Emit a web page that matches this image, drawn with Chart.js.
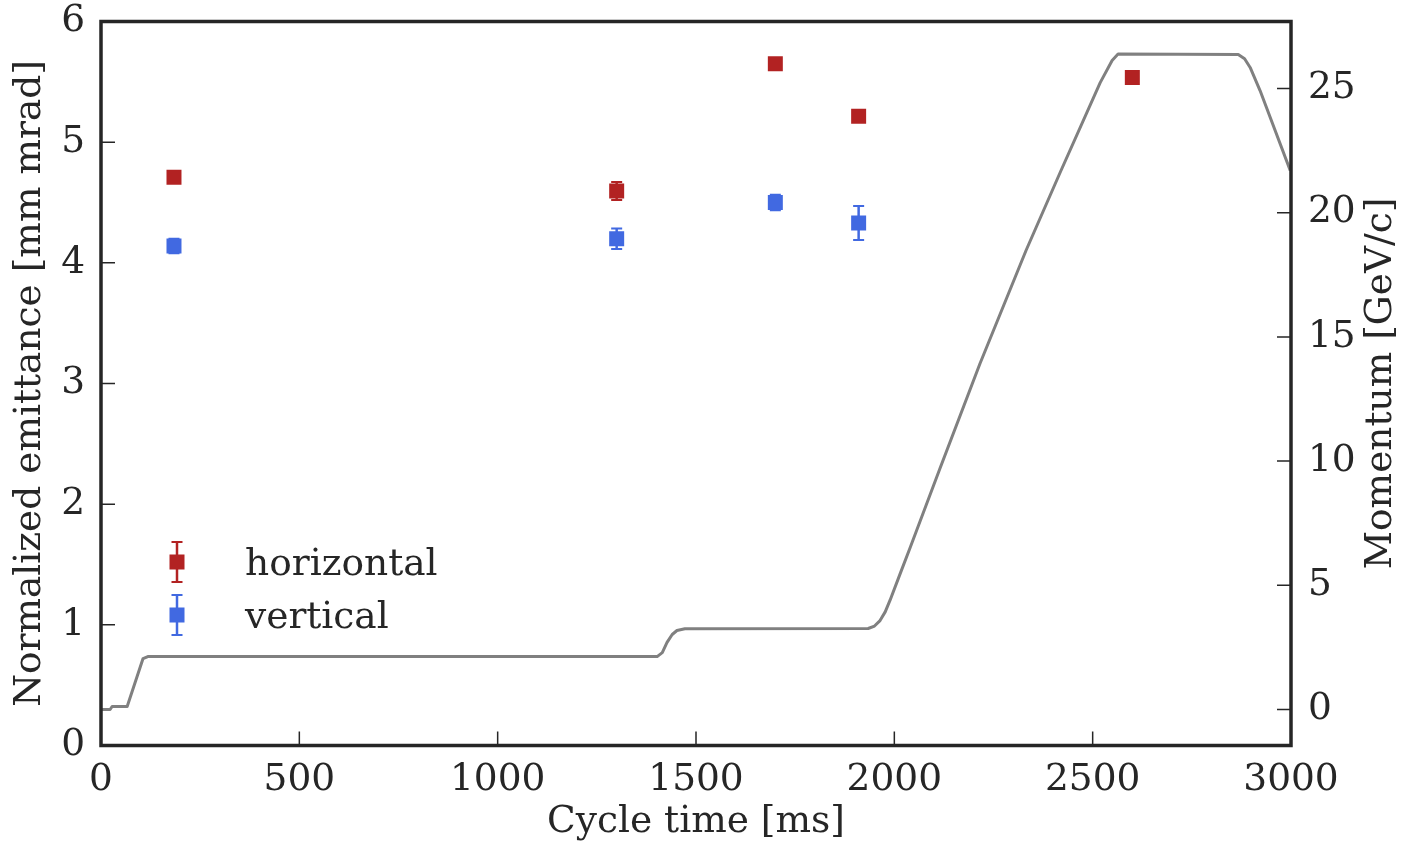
<!DOCTYPE html>
<html>
<head>
<meta charset="utf-8">
<script src="https://cdn.jsdelivr.net/npm/chart.js@4.4.0/dist/chart.umd.min.js"></script>
<style>
  html, body { margin: 0; padding: 0; background: #fff; }
  #wrap { width: 1408px; height: 845px; }
</style>
</head>
<body>
<div id="wrap"><canvas id="chart" width="1408" height="845"></canvas></div>
<script>
// emittance measurements (cycle time in ms)
const measTimes = [184, 1300, 1700, 1910, 2600];
const emitH = [4.71, 4.595, 5.65, 5.215, 5.535];
const errH = [0.02, 0.075, 0.02, 0.02, 0.02];
const vertTimes = [184, 1300, 1700, 1910];
const emitV = [4.14, 4.20, 4.50, 4.33];
const errV = [0.06, 0.085, 0.065, 0.14];

// momentum ramp
const momTime = [0, 23, 28, 66, 106, 118, 1402, 1415, 1427, 1440, 1452, 1472, 1934, 1950, 1964, 1977, 1989, 2015, 2040,
    2115, 2216, 2332, 2418, 2519, 2549, 2564, 2867, 2883, 2897, 2922, 2998];
const momValue = [0, 0, 0.12, 0.12, 2.05, 2.13, 2.13, 2.29, 2.70, 3.02, 3.18, 3.25, 3.26, 3.36, 3.58, 3.93, 4.39, 5.48, 6.52,
    9.70, 13.93, 18.48, 21.62, 25.24, 26.13, 26.39, 26.37, 26.2, 25.85, 24.92, 21.70];

const xTicks = [0, 500, 1000, 1500, 2000, 2500, 3000];
const yTicks = [0, 1, 2, 3, 4, 5, 6];
const momTicks = [0, 5, 10, 15, 20, 25];

const RED = '#b22222';
const BLUE = '#4169e1';
const INK = '#262626';
const FONT = "'DejaVu Serif', serif";
const FS = 37.5;

const toPts = (xs, ys) => xs.map((x, i) => ({ x: x, y: ys[i] }));

// vertical error bars with caps, drawn under the markers
const errorBars = {
    id: 'errorBars',
    beforeDatasetsDraw(chart) {
        const ctx = chart.ctx;
        const xs = chart.scales.x, ys = chart.scales.y;
        chart.data.datasets.forEach(ds => {
            if (!ds.errors) return;
            ctx.save();
            ctx.strokeStyle = ds.backgroundColor;
            ds.data.forEach((p, j) => {
                const e = ds.errors[j];
                const px = xs.getPixelForValue(p.x);
                const top = ys.getPixelForValue(p.y + e);
                const bot = ys.getPixelForValue(p.y - e);
                ctx.lineWidth = 2.5;
                ctx.beginPath();
                ctx.moveTo(px, top); ctx.lineTo(px, bot);
                ctx.stroke();
                ctx.lineWidth = 2;
                ctx.beginPath();
                ctx.moveTo(px - 5.5, top); ctx.lineTo(px + 5.5, top);
                ctx.moveTo(px - 5.5, bot); ctx.lineTo(px + 5.5, bot);
                ctx.stroke();
            });
            ctx.restore();
        });
    }
};

// box frame, inward ticks, right-hand title and legend
const frame = {
    id: 'frame',
    afterDraw(chart) {
        const ctx = chart.ctx;
        const a = chart.chartArea;
        const sx = chart.scales.x, sy = chart.scales.y, s2 = chart.scales.y2;
        ctx.save();
        ctx.strokeStyle = INK;
        ctx.lineWidth = 1.5;
        ctx.beginPath();
        xTicks.forEach(v => {
            const p = sx.getPixelForValue(v);
            ctx.moveTo(p, a.bottom); ctx.lineTo(p, a.bottom - 14);
        });
        yTicks.forEach(v => {
            const p = sy.getPixelForValue(v);
            ctx.moveTo(a.left, p); ctx.lineTo(a.left + 14, p);
        });
        momTicks.forEach(v => {
            const p = s2.getPixelForValue(v);
            ctx.moveTo(a.right, p); ctx.lineTo(a.right - 14, p);
        });
        ctx.stroke();

        ctx.lineWidth = 3.5;
        ctx.strokeRect(a.left, a.top, a.right - a.left, a.bottom - a.top);

        // right axis title, reading upwards like the left one
        ctx.fillStyle = INK;
        ctx.font = FS + 'px ' + FONT;
        ctx.textAlign = 'center';
        ctx.textBaseline = 'middle';
        ctx.translate(1381, (a.top + a.bottom) / 2);
        ctx.rotate(-Math.PI / 2);
        ctx.fillText('Momentum [GeV/c]', 0, 0);
        ctx.restore();

        // legend
        ctx.save();
        ctx.font = FS + 'px ' + FONT;
        ctx.textAlign = 'left';
        ctx.textBaseline = 'alphabetic';
        const items = [
            { label: 'horizontal', color: RED, y: 562 },
            { label: 'vertical', color: BLUE, y: 615 }
        ];
        items.forEach(it => {
            const mx = 177;
            ctx.strokeStyle = it.color;
            ctx.fillStyle = it.color;
            ctx.lineWidth = 2.5;
            ctx.beginPath();
            ctx.moveTo(mx, it.y - 20); ctx.lineTo(mx, it.y + 20);
            ctx.stroke();
            ctx.lineWidth = 2;
            ctx.beginPath();
            ctx.moveTo(mx - 5.5, it.y - 20); ctx.lineTo(mx + 5.5, it.y - 20);
            ctx.moveTo(mx - 5.5, it.y + 20); ctx.lineTo(mx + 5.5, it.y + 20);
            ctx.stroke();
            ctx.fillRect(mx - 7.5, it.y - 7.5, 15, 15);
            ctx.fillStyle = INK;
            ctx.fillText(it.label, 245, it.y + 13);
        });
        ctx.restore();
    }
};

const plain = v => String(v);
const noPadV = s => { s.paddingTop = 0; s.paddingBottom = 0; };

new Chart(document.getElementById('chart'), {
    data: {
        datasets: [
            {
                type: 'line',
                label: 'momentum',
                yAxisID: 'y2',
                data: toPts(momTime, momValue),
                borderColor: '#808080',
                borderWidth: 3,
                borderJoinStyle: 'round',
                pointRadius: 0,
                tension: 0,
                fill: false,
                order: 3
            },
            {
                type: 'scatter',
                label: 'horizontal',
                yAxisID: 'y',
                data: toPts(measTimes, emitH),
                errors: errH,
                backgroundColor: RED,
                borderColor: RED,
                borderWidth: 0,
                pointStyle: 'rect',
                pointRadius: 10.6,
                order: 1
            },
            {
                type: 'scatter',
                label: 'vertical',
                yAxisID: 'y',
                data: toPts(vertTimes, emitV),
                errors: errV,
                backgroundColor: BLUE,
                borderColor: BLUE,
                borderWidth: 0,
                pointStyle: 'rect',
                pointRadius: 10.6,
                order: 2
            }
        ]
    },
    options: {
        responsive: false,
        animation: false,
        devicePixelRatio: 1,
        layout: { padding: { top: 21.5, left: 0, right: 0, bottom: 0 } },
        plugins: {
            legend: { display: false },
            tooltip: { enabled: false }
        },
        scales: {
            x: {
                type: 'linear',
                min: 0,
                max: 3000,
                afterFit: s => { s.height = 99.5; s.paddingLeft = 0; s.paddingRight = 0; },
                afterBuildTicks: s => { s.ticks = xTicks.map(v => ({ value: v })); },
                grid: { display: false, drawTicks: false },
                border: { display: false },
                ticks: { padding: 12, color: INK, callback: plain, maxRotation: 0, autoSkip: false, font: { family: FONT, size: FS } },
                title: {
                    display: true,
                    text: 'Cycle time [ms]',
                    color: INK,
                    padding: { top: 0, bottom: 0 },
                    font: { family: FONT, size: FS }
                }
            },
            y: {
                type: 'linear',
                position: 'left',
                min: 0,
                max: 6,
                afterFit: s => { s.width = 101; noPadV(s); },
                afterBuildTicks: s => { s.ticks = yTicks.map(v => ({ value: v })); },
                grid: { display: false, drawTicks: false },
                border: { display: false },
                ticks: { padding: 16, color: INK, callback: plain, font: { family: FONT, size: FS } },
                title: {
                    display: true,
                    text: 'Normalized emittance [mm mrad]',
                    color: INK,
                    padding: { top: 8, bottom: 0 },
                    font: { family: FONT, size: FS }
                }
            },
            y2: {
                type: 'linear',
                position: 'right',
                min: -1.45,
                max: 27.7,
                afterFit: s => { s.width = 117; noPadV(s); },
                afterBuildTicks: s => { s.ticks = momTicks.map(v => ({ value: v })); },
                grid: { display: false, drawTicks: false },
                border: { display: false },
                ticks: { padding: 17, color: INK, callback: plain, font: { family: FONT, size: FS } }
            }
        }
    },
    plugins: [errorBars, frame]
});
</script>
</body>
</html>
